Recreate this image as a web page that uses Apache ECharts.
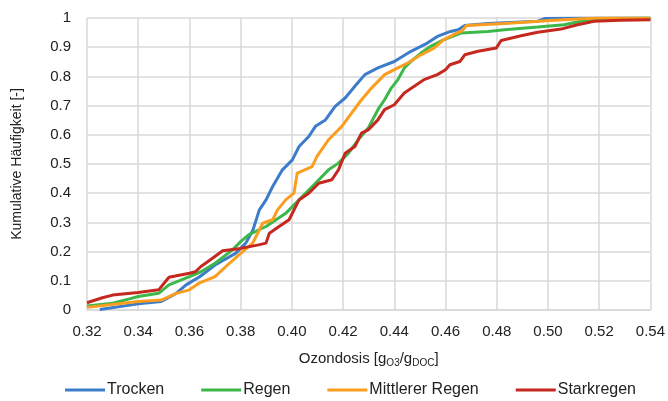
<!DOCTYPE html>
<html>
<head>
<meta charset="utf-8">
<script src="https://cdn.jsdelivr.net/npm/echarts@6/dist/echarts.min.js"></script>
<style>
  html, body { margin: 0; padding: 0; background: #fff; }
  #chart { width: 668px; height: 401px; }
</style>
</head>
<body>
<div id="chart"></div>
<script>
// x-axis ticks
const xTicks = [0.32, 0.34, 0.36, 0.38, 0.40, 0.42, 0.44, 0.46, 0.48, 0.50, 0.52, 0.54]

// Trocken
const trockenX = [0.325, 0.34, 0.349, 0.3548, 0.3587, 0.364, 0.370, 0.378, 0.382, 0.3848, 0.3873, 0.3899, 0.3925, 0.3963, 0.4002, 0.4028, 0.4066, 0.4092, 0.4131, 0.4169, 0.4208, 0.4246, 0.4285, 0.4336, 0.44, 0.4465, 0.4529, 0.4568, 0.462, 0.4649, 0.4675, 0.4766, 0.496, 0.4986, 0.5115, 0.54]
const trockenY = [0.002, 0.021, 0.029, 0.057, 0.086, 0.114, 0.154, 0.194, 0.229, 0.274, 0.343, 0.377, 0.423, 0.48, 0.514, 0.56, 0.594, 0.629, 0.651, 0.697, 0.726, 0.766, 0.806, 0.829, 0.851, 0.886, 0.914, 0.937, 0.954, 0.96, 0.974, 0.981, 0.989, 0.998, 1, 1]

// Regen
const regenX = [0.32, 0.33, 0.3366, 0.34, 0.348, 0.352, 0.36, 0.3645, 0.370, 0.3768, 0.38, 0.3831, 0.387, 0.3899, 0.3976, 0.4028, 0.4092, 0.4143, 0.4182, 0.4221, 0.4259, 0.4298, 0.4336, 0.4362, 0.4388, 0.4414, 0.4439, 0.4465, 0.4504, 0.4542, 0.4594, 0.461, 0.4662, 0.4766, 0.483, 0.496, 0.5063, 0.5128, 0.5193, 0.54]
const regenY = [0.014, 0.023, 0.038, 0.046, 0.057, 0.086, 0.114, 0.131, 0.16, 0.206, 0.234, 0.257, 0.274, 0.286, 0.331, 0.377, 0.434, 0.48, 0.503, 0.537, 0.583, 0.623, 0.686, 0.72, 0.76, 0.789, 0.829, 0.851, 0.88, 0.903, 0.926, 0.931, 0.949, 0.954, 0.96, 0.969, 0.977, 0.989, 0.998, 1]

// Mittlerer Regen
const mittlererX = [0.32, 0.34, 0.349, 0.3548, 0.36, 0.3636, 0.370, 0.3756, 0.38, 0.3847, 0.3886, 0.3925, 0.3944, 0.3976, 0.4008, 0.4021, 0.4079, 0.4098, 0.4143, 0.4195, 0.4233, 0.4272, 0.4311, 0.4362, 0.4414, 0.4452, 0.4504, 0.4555, 0.4594, 0.4645, 0.4662, 0.4682, 0.483, 0.5025, 0.5193, 0.54]
const mittlererY = [0.009, 0.029, 0.034, 0.057, 0.069, 0.091, 0.114, 0.16, 0.194, 0.229, 0.297, 0.309, 0.343, 0.377, 0.4, 0.469, 0.491, 0.526, 0.583, 0.629, 0.674, 0.72, 0.76, 0.806, 0.829, 0.846, 0.874, 0.897, 0.926, 0.949, 0.954, 0.974, 0.981, 0.992, 1, 1]

// Starkregen
const starkX = [0.32, 0.326, 0.33, 0.34, 0.348, 0.352, 0.36, 0.3623, 0.3645, 0.369, 0.373, 0.38, 0.387, 0.3899, 0.3912, 0.395, 0.3989, 0.4028, 0.4066, 0.4105, 0.4156, 0.4182, 0.4208, 0.4246, 0.4272, 0.4298, 0.4336, 0.4362, 0.44, 0.4439, 0.4478, 0.4516, 0.4568, 0.46, 0.4617, 0.4656, 0.4675, 0.4727, 0.4798, 0.4817, 0.4895, 0.496, 0.5051, 0.5115, 0.518, 0.5283, 0.54]
const starkY = [0.025, 0.042, 0.051, 0.06, 0.069, 0.112, 0.126, 0.131, 0.149, 0.177, 0.203, 0.211, 0.223, 0.229, 0.263, 0.286, 0.309, 0.377, 0.4, 0.434, 0.446, 0.48, 0.537, 0.56, 0.606, 0.617, 0.651, 0.686, 0.703, 0.743, 0.766, 0.789, 0.806, 0.823, 0.84, 0.851, 0.874, 0.886, 0.897, 0.923, 0.939, 0.951, 0.962, 0.977, 0.989, 0.992, 0.994]

const FONT = '"Liberation Sans", Arial, sans-serif'
const TXT = '#222'
const GRID = '#d9d9d9'
const zip = (xs, ys) => xs.map((x, i) => [x, ys[i]])

const makeSeries = (name, xs, ys, color) => ({
  name,
  type: 'line',
  data: zip(xs, ys),
  showSymbol: false,
  lineStyle: { width: 3, color },
  itemStyle: { color },
  animation: false
})

const chart = echarts.init(document.getElementById('chart'))
chart.setOption({
  textStyle: { fontFamily: FONT },
  grid: { left: 87, right: 15, top: 18, bottom: 91 },
  legend: {
    top: 377,
    left: 60,
    icon: 'rect',
    itemWidth: 40,
    itemHeight: 3,
    itemGap: 37,
    textStyle: { fontFamily: FONT, fontSize: 16, color: TXT, padding: [0, 0, 0, -3] }
  },
  xAxis: {
    type: 'value',
    min: xTicks[0],
    max: xTicks[xTicks.length - 1],
    interval: 0.02,
    name: 'Ozondosis [g{sub|O3}/g{sub|DOC}]',
    nameLocation: 'middle',
    nameGap: 40,
    nameTextStyle: {
      fontFamily: FONT, fontSize: 15, color: TXT,
      rich: { sub: { fontFamily: FONT, fontSize: 10, color: TXT, padding: [8, 0, 0, 0] } }
    },
    axisLine: { show: true, lineStyle: { color: GRID, width: 1.5 } },
    axisTick: { show: false },
    splitLine: { show: true, lineStyle: { color: GRID, width: 1.5 } },
    axisLabel: { fontFamily: FONT, fontSize: 15, color: TXT, margin: 14, formatter: v => v.toFixed(2) }
  },
  yAxis: {
    type: 'value',
    min: 0,
    max: 1,
    interval: 0.1,
    name: 'Kumulative Häufigkeit [-]',
    nameLocation: 'middle',
    nameGap: 63,
    nameTextStyle: { fontFamily: FONT, fontSize: 14, color: TXT },
    axisLine: { show: false },
    axisTick: { show: false },
    splitLine: { show: true, lineStyle: { color: GRID, width: 1.5 } },
    axisLabel: {
      fontFamily: FONT, fontSize: 15, color: TXT, margin: 16,
      formatter: v => (v === 0 || v === 1) ? String(v) : v.toFixed(1)
    }
  },
  series: [
    makeSeries('Trocken', trockenX, trockenY, '#3d7cc9'),
    makeSeries('Regen', regenX, regenY, '#3cb84a'),
    makeSeries('Mittlerer Regen', mittlererX, mittlererY, '#fb9d1e'),
    makeSeries('Starkregen', starkX, starkY, '#c4281f')
  ]
})
</script>
</body>
</html>
